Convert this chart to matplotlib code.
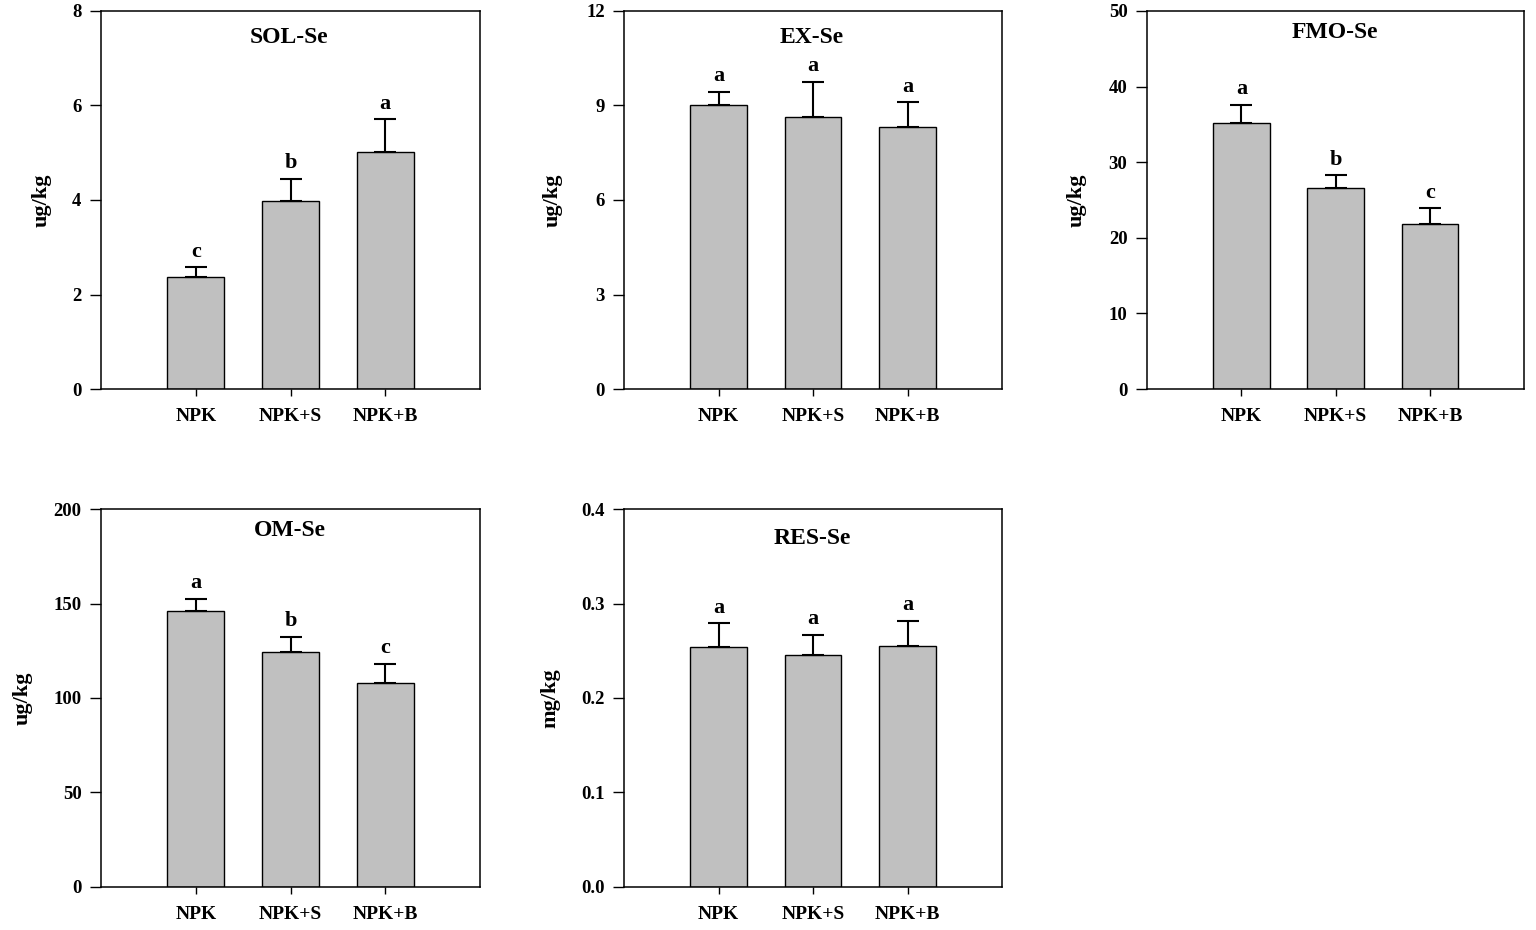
import matplotlib
matplotlib.use("Agg")
import matplotlib.pyplot as plt
import numpy as np

plt.rcParams['font.family'] = ['Liberation Serif', 'DejaVu Serif']
plt.rcParams['font.weight'] = 'bold'

categories = ["NPK", "NPK+S", "NPK+B"]

sol_mean = [2.36, 3.97, 5.02]
sol_err = [0.22, 0.48, 0.69]
sol_letters = ["c", "b", "a"]

ex_mean = [9.02, 8.64, 8.33]
ex_err = [0.42, 1.11, 0.77]
ex_letters = ["a", "a", "a"]

fmo_mean = [35.2, 26.6, 21.8]
fmo_err = [2.4, 1.7, 2.1]
fmo_letters = ["a", "b", "c"]

om_mean = [146.1, 124.5, 107.8]
om_err = [6.5, 8.0, 10.4]
om_letters = ["a", "b", "c"]

res_mean = [0.254, 0.246, 0.255]
res_err = [0.025, 0.021, 0.027]
res_letters = ["a", "a", "a"]

panels = [
    dict(title="SOL-Se", mean=sol_mean, err=sol_err, letters=sol_letters,
         ylim=(0, 8), ticks=[0, 2, 4, 6, 8], fmt="{:g}", ylabel="ug/kg",
         pos=[0.0658, 0.5817, 0.2467, 0.4065], labx=-0.156, ty=0.931),
    dict(title="EX-Se", mean=ex_mean, err=ex_err, letters=ex_letters,
         ylim=(0, 12), ticks=[0, 3, 6, 9, 12], fmt="{:g}", ylabel="ug/kg",
         pos=[0.4063, 0.5817, 0.2461, 0.4065], labx=-0.188, ty=0.929),
    dict(title="FMO-Se", mean=fmo_mean, err=fmo_err, letters=fmo_letters,
         ylim=(0, 50), ticks=[0, 10, 20, 30, 40, 50], fmt="{:g}", ylabel="ug/kg",
         pos=[0.7467, 0.5817, 0.2458, 0.4065], labx=-0.186, ty=0.944),
    dict(title="OM-Se", mean=om_mean, err=om_err, letters=om_letters,
         ylim=(0, 200), ticks=[0, 50, 100, 150, 200], fmt="{:g}", ylabel="ug/kg",
         pos=[0.0658, 0.0466, 0.2467, 0.4058], labx=-0.206, ty=0.944),
    dict(title="RES-Se", mean=res_mean, err=res_err, letters=res_letters,
         ylim=(0, 0.4), ticks=[0, 0.1, 0.2, 0.3, 0.4], fmt="{:.1f}", ylabel="mg/kg",
         pos=[0.4063, 0.0466, 0.2461, 0.4058], labx=-0.196, ty=0.923),
]

fig = plt.figure(figsize=(15.36, 9.30), dpi=100)

for p in panels:
    ax = fig.add_axes(p["pos"])
    x = np.arange(len(categories))
    ax.bar(x, p["mean"], width=0.6, color="#c0c0c0", edgecolor="black",
           linewidth=1.0, zorder=2)
    ax.errorbar(x, p["mean"], yerr=[np.zeros(len(x)), p["err"]], fmt="none",
                ecolor="black", elinewidth=1.5, capsize=8, capthick=1.5, zorder=3)
    for xi, m, e, lt in zip(x, p["mean"], p["err"], p["letters"]):
        ax.annotate(lt, xy=(xi, m + e), xytext=(0, 7.5), textcoords="offset points",
                    ha="center", va="baseline", fontsize=16, fontweight="bold")
    ax.set_xlim(-1, 3)
    ax.set_ylim(*p["ylim"])
    ax.set_xticks(x)
    ax.set_xticklabels(categories, fontsize=14, fontweight="bold")
    ax.set_yticks(p["ticks"])
    ax.set_yticklabels([p["fmt"].format(t) for t in p["ticks"]], fontsize=13.5,
                       fontweight="bold")
    ax.tick_params(axis="y", direction="out", length=8, width=1.0, pad=6)
    ax.tick_params(axis="x", direction="out", length=5, width=1.0, pad=9)
    for s in ax.spines.values():
        s.set_linewidth(1.1)
    ax.set_ylabel(p["ylabel"], fontsize=16, fontweight="bold", va="center")
    ax.yaxis.set_label_coords(p["labx"], 0.5)
    ax.text(0.497, p["ty"], p["title"], transform=ax.transAxes, ha="center",
            va="center", fontsize=17, fontweight="bold")

fig.savefig("out.png", dpi=100)
